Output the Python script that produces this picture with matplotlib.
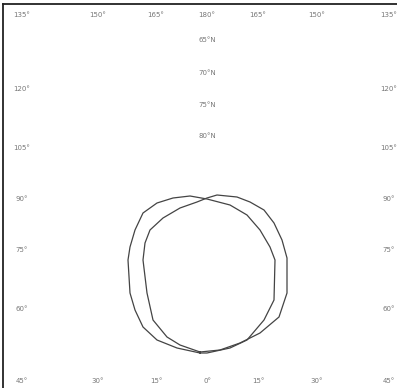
import numpy as np
import matplotlib.pyplot as plt

# north polar map, 0 deg at the bottom, map units ~ pixels
SCALE = 715.0

meridians = [-180, -165, -150, -135, -120, -105, -90, -75, -60, -45, -30, -15,
             0, 15, 30, 45, 60, 75, 90, 105, 120, 135, 150, 165]
parallels = [80, 75, 70, 65]

# two rings, in map units (pole at 0, 0)
ring_a_x = [-7, -30, -50, -64, -72, -77, -79, -77, -72, -64, -50, -34,
            -17, 0, 23, 40, 53, 63, 68, 67, 57, 40, 23, 0]
ring_a_y = [-154, -149, -141, -128, -111, -94, -61, -48, -31, -14, -4, 1,
            3, 0, -6, -16, -31, -48, -61, -101, -121, -141, -149, -154]
ring_b_x = [-7, -27, -40, -54, -60, -64, -62, -57, -44, -27, -10, 0,
            10, 30, 43, 57, 67, 75, 80, 80, 72, 53, 33, 13]
ring_b_y = [-153, -146, -138, -121, -94, -61, -44, -31, -19, -9, -3, 1,
            4, 2, -3, -11, -24, -41, -59, -94, -118, -134, -144, -151]


def lon_label(lon):
    return f"{abs(lon)}°"


fig = plt.figure(figsize=(3.97, 3.88), dpi=100)
ax = fig.add_axes([3 / 397, 0.0, 394 / 397, 384 / 388])
ax.set_xlim(-204, 190)
ax.set_ylim(-189, 195)
ax.set_xticks([])
ax.set_yticks([])
for side in ["right", "bottom"]:
    ax.spines[side].set_visible(False)
for side in ["top", "left"]:
    ax.spines[side].set_linewidth(1.3)
    ax.spines[side].set_color("#222222")

txt = dict(fontsize=5, color="#777777", ha="center", va="center")

# meridian labels along the frame
H = 190.0
for lon in meridians:
    dx, dy = np.sin(np.radians(lon)), -np.cos(np.radians(lon))
    t = min(H / abs(dx) if abs(dx) > 1e-9 else 1e9,
            H / abs(dy) if abs(dy) > 1e-9 else 1e9)
    x = np.clip(t * dx, -185, 182)
    y = np.clip(t * dy, -182, 184)
    ax.text(x, y, lon_label(lon), **txt)

# parallel labels along the 180 meridian
for lat in parallels:
    r = SCALE * np.tan(np.radians(90 - lat) / 2)
    ax.text(0, r, f"{lat}°N", **txt)

ax.plot(ring_a_x + ring_a_x[:1], ring_a_y + ring_a_y[:1], color="#444444", lw=0.9)
ax.plot(ring_b_x + ring_b_x[:1], ring_b_y + ring_b_y[:1], color="#444444", lw=0.9)

fig.savefig("out.png", dpi=100)
